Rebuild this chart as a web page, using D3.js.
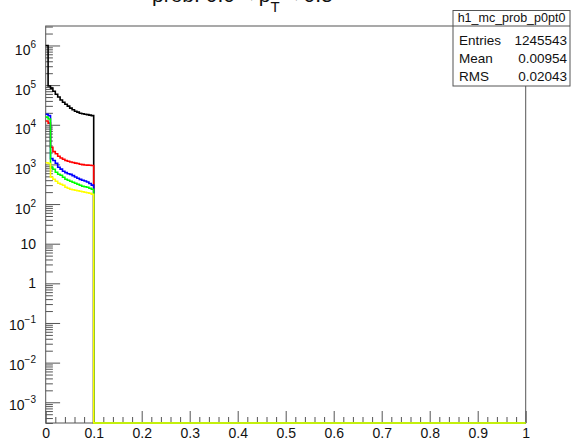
<!DOCTYPE html>
<html>
<head>
<meta charset="utf-8">
<script src="https://cdn.jsdelivr.net/npm/d3@7"></script>
<style>
  body { margin: 0; background: #fff; }
  svg { font-family: "Liberation Sans", Arial, sans-serif; }
</style>
</head>
<body>
<svg id="chart" width="571" height="447"></svg>
<script>
// histogram binning (0..1, 200 bins, only the first 20 filled)
const bin_width = 0.005;
const n_bins = 200;

// bin contents, first 20 bins (0 - 0.1)
const black_counts = [1.0e6, 9.5e4, 8.4e4, 7.0e4, 5.9e4, 5.0e4, 4.2e4, 3.7e4, 3.3e4, 2.95e4,
  2.63e4, 2.4e4, 2.2e4, 2.08e4, 1.96e4, 1.9e4, 1.85e4, 1.8e4, 1.75e4, 1.7e4];
const red_counts = [1.25e4, 1.1e4, 2700, 2100, 1850, 1600, 1450, 1350, 1250, 1200,
  1150, 1120, 1080, 1050, 1010, 990, 970, 960, 950, 940];
const blue_counts = [1.85e4, 1.7e4, 1400, 1250, 1070, 850, 760, 673, 620, 580,
  560, 520, 480, 449, 420, 400, 380, 360, 330, 300];
const green_counts = [1.56e4, 1.4e4, 850, 756, 636, 566, 534, 475, 423, 399,
  377, 355, 335, 316, 299, 282, 274, 266, 251, 237];
const yellow_counts = [1100, 1050, 475, 423, 377, 335, 316, 299, 266, 251,
  237, 230, 223, 216, 210, 204, 199, 193, 187, 177];

const series = [
  { name: "black", color: "#000000", counts: black_counts },
  { name: "red", color: "#ff0000", counts: red_counts },
  { name: "blue", color: "#0000ff", counts: blue_counts },
  { name: "green", color: "#00ff00", counts: green_counts },
  { name: "yellow", color: "#ffff00", counts: yellow_counts },
];

// axes
const x_major_ticks = [0, 0.1, 0.2, 0.3, 0.4, 0.5, 0.6, 0.7, 0.8, 0.9, 1];
const x_tick_labels = ["0", "0.1", "0.2", "0.3", "0.4", "0.5", "0.6", "0.7", "0.8", "0.9", "1"];
const y_decades = [-3, -2, -1, 0, 1, 2, 3, 4, 5, 6];

// stats box
const hist_name = "h1_mc_prob_p0pt0";
const stats_labels = ["Entries", "Mean", "RMS"];
const stats_values = ["1245543", "0.00954", "0.02043"];

const svg = d3.select("#chart");
const frame = { left: 45.7, right: 525.7, top: 26, bottom: 423 };

const x_scale = d3.scaleLinear().domain([0, 1]).range([frame.left, frame.right]);
const y_min = 3.0e-4, y_max = 3.1e6;
const y_scale = d3.scaleLog().domain([y_min, y_max]).range([frame.bottom, frame.top]).clamp(true);

const axis_col = "#555";

// title (mostly cut off at the top of the canvas, as in the original)
const title = svg.append("text")
  .attr("x", 152).attr("y", 2)
  .style("font-size", "21px").attr("fill", "#111");
title.append("tspan").text("prob. 0.0 < p");
title.append("tspan").attr("dy", 10).style("font-size", "15px").text("T");
title.append("tspan").attr("dy", -10).text(" < 0.5");

// frame
svg.append("rect")
  .attr("x", frame.left).attr("y", frame.top)
  .attr("width", frame.right - frame.left).attr("height", frame.bottom - frame.top)
  .attr("fill", "none").attr("stroke", axis_col).attr("stroke-width", 1);

// x axis major ticks + labels
const x_axis = svg.append("g")
  .attr("class", "x_axis")
  .attr("transform", "translate(0," + frame.bottom + ")")
  .call(d3.axisBottom(x_scale).tickValues(x_major_ticks)
    .tickFormat(function (d, i) { return x_tick_labels[i]; })
    .tickSize(-12).tickSizeOuter(0).tickPadding(5));
x_axis.select(".domain").remove();
x_axis.selectAll("line").attr("stroke", axis_col);
x_axis.selectAll("text").style("font-size", "14px").attr("fill", "#111")
  .style("font-family", "Liberation Sans, Arial, sans-serif");

// x axis minor ticks
const x_minor = d3.range(0, 51).map(function (i) { return i * 0.02; })
  .filter(function (d, i) { return i % 5 != 0; });
const x_axis_minor = svg.append("g")
  .attr("class", "x_axis_minor")
  .attr("transform", "translate(0," + frame.bottom + ")")
  .call(d3.axisBottom(x_scale).tickValues(x_minor).tickFormat("").tickSize(-6).tickSizeOuter(0));
x_axis_minor.select(".domain").remove();
x_axis_minor.selectAll("line").attr("stroke", axis_col);

// y axis major ticks
const y_major = y_decades.map(function (d) { return Math.pow(10, d); });
const y_axis = svg.append("g")
  .attr("class", "y_axis")
  .attr("transform", "translate(" + frame.left + ",0)")
  .call(d3.axisLeft(y_scale).tickValues(y_major).tickFormat("").tickSize(-14.4).tickSizeOuter(0));
y_axis.select(".domain").remove();
y_axis.selectAll("line").attr("stroke", axis_col);

// y axis minor ticks (2..9 in each decade)
const y_minor = [];
for (let e = -4; e <= 6; e++) {
  for (let m = 2; m <= 9; m++) {
    const v = m * Math.pow(10, e);
    if (v > y_min && v < y_max) y_minor.push(v);
  }
}
const y_axis_minor = svg.append("g")
  .attr("class", "y_axis_minor")
  .attr("transform", "translate(" + frame.left + ",0)")
  .call(d3.axisLeft(y_scale).tickValues(y_minor).tickFormat("").tickSize(-7.2).tickSizeOuter(0));
y_axis_minor.select(".domain").remove();
y_axis_minor.selectAll("line").attr("stroke", axis_col);

// y labels: 1, 10 plain, others as 10^n
const y_labels = svg.append("g").attr("class", "y_labels")
  .selectAll(null)
  .data(y_decades)
  .enter()
  .append("text")
  .attr("text-anchor", "end")
  .attr("x", 36)
  .attr("y", function (d) {
    const ty = y_scale(Math.pow(10, d));
    if (d == 0 || d == 1) return ty + 5;
    if (d < 0) return ty + 7.5;
    return ty + 9.5;
  })
  .attr("fill", "#111")
  .style("font-size", "14px");

y_labels.each(function (d) {
  const t = d3.select(this);
  if (d == 0) { t.text("1"); return; }
  if (d == 1) { t.text("10"); return; }
  t.append("tspan").text("10");
  t.append("tspan").attr("dy", -7).style("font-size", "10px")
    .text(d < 0 ? "\u2212" + (-d) : String(d));
});

// histograms
function hist_points(counts) {
  const pts = [];
  for (let i = 0; i < n_bins; i++) {
    const c = i < counts.length ? counts[i] : 0;
    const yv = c > 0 ? y_scale(c) : frame.bottom;
    pts.push([x_scale(i * bin_width), yv]);
    pts.push([x_scale((i + 1) * bin_width), yv]);
  }
  return pts;
}

const line = d3.line();
svg.append("g")
  .attr("class", "hists")
  .selectAll(null)
  .data(series)
  .enter()
  .append("path")
  .attr("d", function (d) { return line(hist_points(d.counts)); })
  .attr("fill", "none")
  .attr("stroke", function (d) { return d.color; })
  .attr("stroke-width", 1.6);

// stats box
const box = { x: 453, y: 10.5, w: 117, h: 75.5 };
const stats = svg.append("g").attr("class", "stats");
stats.append("rect")
  .attr("x", box.x).attr("y", box.y).attr("width", box.w).attr("height", box.h)
  .attr("fill", "#fff").attr("stroke", axis_col).attr("stroke-width", 1);
stats.append("line")
  .attr("x1", box.x).attr("x2", box.x + box.w).attr("y1", 26).attr("y2", 26)
  .attr("stroke", axis_col);
stats.append("text")
  .attr("x", box.x + box.w / 2).attr("y", 22)
  .attr("text-anchor", "middle").attr("fill", "#111")
  .style("font-size", "12.5px").text(hist_name);

const row_y = [44.5, 62.5, 80.5];
stats.selectAll(null)
  .data(stats_labels)
  .enter()
  .append("text")
  .attr("x", 459).attr("y", function (d, i) { return row_y[i]; })
  .attr("fill", "#111").style("font-size", "13.5px")
  .text(function (d) { return d; });
stats.selectAll(null)
  .data(stats_values)
  .enter()
  .append("text")
  .attr("x", 567).attr("y", function (d, i) { return row_y[i]; })
  .attr("text-anchor", "end")
  .attr("fill", "#111").style("font-size", "13.5px")
  .text(function (d) { return d; });
</script>
</body>
</html>
